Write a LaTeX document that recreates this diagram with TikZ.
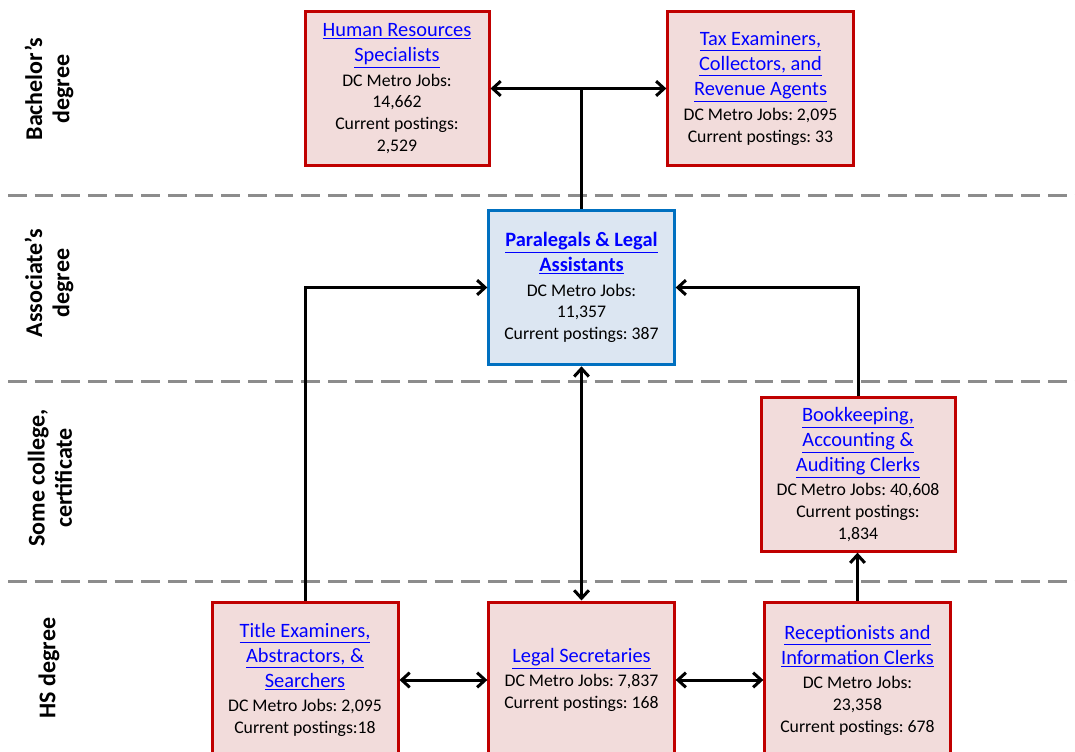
\documentclass[tikz,border=0pt]{standalone}
\usepackage{fontspec}
\setmainfont{Carlito}
\usetikzlibrary{arrows.meta}
\definecolor{redb}{HTML}{C00000}
\definecolor{pinkf}{HTML}{F2DCDB}
\definecolor{blueb}{HTML}{0070C0}
\definecolor{bluef}{HTML}{DCE6F2}
\definecolor{linkc}{HTML}{0000FF}
\definecolor{dashc}{HTML}{8C8C8C}
\newcommand{\lk}[1]{{\fontsize{15.3}{18}\selectfont\textcolor{linkc}{\underline{#1}}}}
\frenchspacing
\begin{document}
\begin{tikzpicture}[x=0.75pt,y=-0.75pt,
  jobbox/.style={draw=redb,fill=pinkf,line width=2.25pt,minimum height=115pt,align=center,inner sep=0pt,font=\fontsize{13.3}{16.3}\selectfont},
  keybox/.style={draw=blueb,fill=bluef,line width=2.25pt,minimum height=116pt,align=center,inner sep=0pt,font=\fontsize{13.3}{16.3}\selectfont},
  conn/.style={line width=2.25pt,black},
  tip/.tip={Straight Barb[length=6pt,width=11pt]},
  lvl/.style={rotate=90,align=center,font=\fontsize{18}{20.5}\selectfont\bfseries},
  sep/.style={dashc,line width=2.25pt,dash pattern=on 14pt off 6pt}]
\useasboundingbox (0,0) rectangle (1075,752);
\clip (0,0) rectangle (1075,752);
% level separators
\draw[sep] (8,196) -- (1075,196);
\draw[sep] (8,382) -- (1075,382);
\draw[sep] (8,581) -- (1075,581);
% level labels
\node[lvl] (l1) at (49,89) {Bachelor’s\\degree};
\node[lvl] (l2) at (49,283) {Associate’s\\degree};
\node[lvl] (l3) at (50,478) {Some college,\\certificate};
\node[lvl] (l4) at (49,668) {HS degree};
% boxes
\node[jobbox,minimum width=138pt] (hr) at (397,88.5) {\lk{Human Resources}\\[2.5pt]\lk{Specialists}\\[2pt]DC Metro Jobs:\\14,662\\Current postings:\\2,529};
\node[jobbox,minimum width=139pt] (tax) at (760.5,88.5) {\lk{Tax Examiners,}\\[2.5pt]\lk{Collectors, and}\\[2.5pt]\lk{Revenue Agents}\\[2pt]DC Metro Jobs: 2,095\\Current postings: 33};
\node[keybox,minimum width=139pt] (para) at (581.5,287.5) {{\bfseries\lk{Paralegals \& Legal}}\\[2.5pt]{\bfseries\lk{Assistants}}\\[2pt]DC Metro Jobs:\\11,357\\Current postings: 387};
\node[jobbox,minimum width=145.5pt] (book) at (858,474.5) {\lk{Bookkeeping,}\\[2.5pt]\lk{Accounting \&}\\[2.5pt]\lk{Auditing Clerks}\\[2pt]DC Metro Jobs: 40,608\\Current postings:\\1,834};
\node[jobbox,minimum width=139.5pt,minimum height=117pt] (title) at (305,680) {\lk{Title Examiners,}\\[2.5pt]\lk{Abstractors, \&}\\[2.5pt]\lk{Searchers}\\[2pt]DC Metro Jobs: 2,095\\Current postings:18};
\node[jobbox,minimum width=139pt,minimum height=117pt] (legal) at (581.5,680) {\lk{Legal Secretaries}\\[2pt]DC Metro Jobs: 7,837\\Current postings: 168};
\node[jobbox,minimum width=139pt,minimum height=117pt] (recep) at (857.5,680) {\lk{Receptionists and}\\[2.5pt]\lk{Information Clerks}\\[2pt]DC Metro Jobs:\\23,358\\Current postings: 678};
% connectors
\coordinate (j) at (581.5,88.5);
\draw[conn,tip-tip] (hr.east) -- (tax.west);
\draw[conn] (j) -- (para.north);
\draw[conn,-tip] (title.north) |- (para.west);
\draw[conn,-tip] (book.north) |- (para.east);
\draw[conn,tip-tip] (para.south) -- (legal.north);
\draw[conn,tip-tip] (title.east) -- (legal.west);
\draw[conn,tip-tip] (legal.east) -- (recep.west);
\draw[conn,-tip] (recep.north) -- (recep.north |- book.south);
\end{tikzpicture}
\end{document}
